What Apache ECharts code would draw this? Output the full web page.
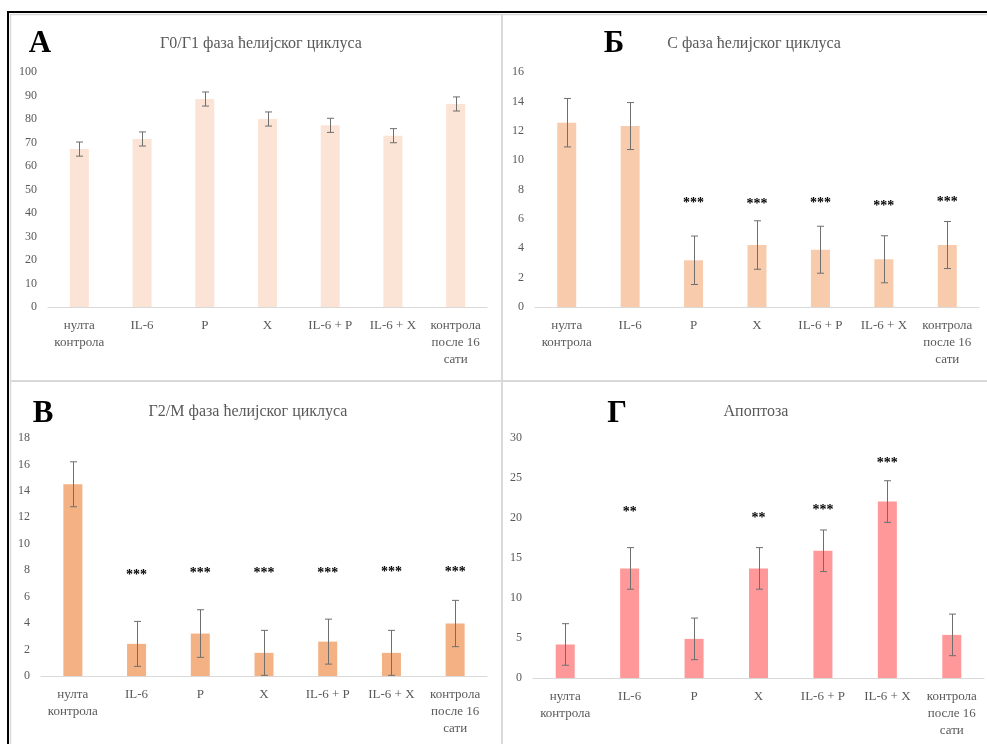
<!DOCTYPE html>
<html>
<head>
<meta charset="utf-8">
<script src="https://cdn.jsdelivr.net/npm/echarts@6/dist/echarts.min.js"></script>
<style>
  html, body { margin: 0; padding: 0; background: #ffffff; }
  #chart { width: 987px; height: 744px; }
</style>
</head>
<body>
<div id="chart"></div>
<script>
// Treatment groups (shared by all four panels)
const categories = ['нулта\nконтрола', 'IL-6', 'P', 'X', 'IL-6 + P', 'IL-6 + X', 'контрола\nпосле 16\nсати'];

// A: G0/G1 phase (%)
const g0g1Mean = [67.2, 71.5, 88.5, 80.0, 77.3, 72.9, 86.4];
const g0g1Err  = [3.0, 3.0, 3.0, 3.0, 3.0, 3.0, 3.0];
const g0g1Sig  = ['', '', '', '', '', '', ''];
const g0g1SigLevel = [null, null, null, null, null, null, null];

// Б: S phase (%)
const sMean = [12.55, 12.32, 3.18, 4.22, 3.9, 3.25, 4.22];
const sErr  = [1.65, 1.6, 1.65, 1.65, 1.6, 1.6, 1.6];
const sSig  = ['', '', '***', '***', '***', '***', '***'];
const sSigLevel = [null, null, 7.28, 7.17, 7.28, 7.06, 7.33];

// В: G2/M phase (%)
const g2mMean = [14.5, 2.43, 3.21, 1.75, 2.6, 1.75, 3.97];
const g2mErr  = [1.7, 1.7, 1.8, 1.7, 1.7, 1.7, 1.75];
const g2mSig  = ['', '***', '***', '***', '***', '***', '***'];
const g2mSigLevel = [null, 7.84, 7.96, 7.96, 7.96, 8.1, 8.1];

// Г: apoptosis (%)
const apoMean = [4.19, 13.7, 4.89, 13.7, 15.9, 22.06, 5.39];
const apoErr  = [2.6, 2.6, 2.6, 2.6, 2.6, 2.6, 2.6];
const apoSig  = ['', '**', '', '**', '***', '***', ''];
const apoSigLevel = [null, 21.05, null, 20.35, 21.3, 27.2, null];

// Panel titles, letters and axis ranges
const panelTitles  = ['Г0/Г1 фаза ћелијског циклуса', 'С фаза ћелијског циклуса', 'Г2/М фаза ћелијског циклуса', 'Апоптоза'];
const panelLetters = ['A', 'Б', 'В', 'Г'];
const axisMax      = [100, 16, 18, 30];
const axisStep     = [10, 2, 2, 5];

const SERIF = '"Liberation Serif", "Times New Roman", serif';
const GREY_TEXT = '#595959';

const panels = [
  { mean: g0g1Mean, err: g0g1Err, sig: g0g1Sig, level: g0g1SigLevel, color: '#FBE4D5',
    grid: { left: 48, top: 72, width: 439, height: 235 },
    title: [256, 39], letter: [40, 44] },
  { mean: sMean, err: sErr, sig: sSig, level: sSigLevel, color: '#F8CBAD',
    grid: { left: 535, top: 72, width: 444, height: 235 },
    title: [749, 39], letter: [614, 44] },
  { mean: g2mMean, err: g2mErr, sig: g2mSig, level: g2mSigLevel, color: '#F4B183',
    grid: { left: 41, top: 438, width: 446, height: 238 },
    title: [243, 407], letter: [43, 414] },
  { mean: apoMean, err: apoErr, sig: apoSig, level: apoSigLevel, color: '#FF9999',
    grid: { left: 533, top: 438, width: 451, height: 240 },
    title: [751, 407], letter: [617, 414] }
];

const grids = [], xAxes = [], yAxes = [], series = [], titles = [];

panels.forEach(function (p, k) {
  grids.push(Object.assign({ containLabel: false }, p.grid));

  xAxes.push({
    type: 'category', gridIndex: k, data: categories,
    axisLine: { lineStyle: { color: '#d9d9d9', width: 1 } },
    axisTick: { show: false },
    axisLabel: { color: GREY_TEXT, fontFamily: SERIF, fontSize: 13, lineHeight: 17, margin: 10, interval: 0 }
  });

  yAxes.push({
    type: 'value', gridIndex: k, min: 0, max: axisMax[k], interval: axisStep[k],
    axisLine: { show: false }, axisTick: { show: false },
    splitLine: { show: false },
    axisLabel: { color: GREY_TEXT, fontFamily: SERIF, fontSize: 12, margin: 11 }
  });

  // bars
  series.push({
    type: 'bar', xAxisIndex: k, yAxisIndex: k, data: p.mean,
    barWidth: 19, itemStyle: { color: p.color }, silent: true
  });

  // error bars (mean ± err)
  series.push({
    type: 'custom', xAxisIndex: k, yAxisIndex: k, silent: true, z: 5,
    data: p.mean.map(function (m, i) { return [i, m - p.err[i], m + p.err[i]]; }),
    renderItem: function (params, api) {
      const lo = api.coord([api.value(0), api.value(1)]);
      const hi = api.coord([api.value(0), api.value(2)]);
      const x = Math.round(lo[0]) + 0.5, half = 3.5;
      const st = { stroke: '#6f6f6f', lineWidth: 1 };
      return {
        type: 'group',
        children: [
          { type: 'line', shape: { x1: x, y1: hi[1], x2: x, y2: lo[1] }, style: st },
          { type: 'line', shape: { x1: x - half, y1: hi[1], x2: x + half, y2: hi[1] }, style: st },
          { type: 'line', shape: { x1: x - half, y1: lo[1], x2: x + half, y2: lo[1] }, style: st }
        ]
      };
    }
  });

  // significance marks
  const sigData = [];
  p.level.forEach(function (lv, i) { if (lv !== null) sigData.push([i, lv]); });
  series.push({
    type: 'custom', xAxisIndex: k, yAxisIndex: k, silent: true, z: 6,
    data: sigData,
    renderItem: function (params, api) {
      const i = api.value(0);
      const pt = api.coord([i, api.value(1)]);
      return {
        type: 'text',
        style: {
          text: p.sig[i], x: pt[0], y: pt[1] + 3,
          align: 'center', verticalAlign: 'middle',
          font: 'bold 14px ' + SERIF, fill: '#000000'
        }
      };
    }
  });

  titles.push({
    text: panelTitles[k], left: p.title[0], top: p.title[1],
    textAlign: 'center', textVerticalAlign: 'middle',
    textStyle: { color: GREY_TEXT, fontFamily: SERIF, fontSize: 16, fontWeight: 'normal' }
  });
});

// panel letters and frame lines
const graphics = [
  { type: 'line', shape: { x1: 7, y1: 12, x2: 987, y2: 12 }, style: { stroke: '#000', lineWidth: 2 } },
  { type: 'line', shape: { x1: 8, y1: 11, x2: 8, y2: 744 }, style: { stroke: '#000', lineWidth: 2 } },
  { type: 'line', shape: { x1: 10, y1: 14.5, x2: 987, y2: 14.5 }, style: { stroke: '#d9d9d9', lineWidth: 1.5 } },
  { type: 'line', shape: { x1: 10.5, y1: 14, x2: 10.5, y2: 744 }, style: { stroke: '#d9d9d9', lineWidth: 1.5 } },
  { type: 'line', shape: { x1: 502, y1: 14, x2: 502, y2: 744 }, style: { stroke: '#d9d9d9', lineWidth: 2 } },
  { type: 'line', shape: { x1: 10, y1: 381, x2: 987, y2: 381 }, style: { stroke: '#d9d9d9', lineWidth: 2 } }
];
panels.forEach(function (p, k) {
  graphics.push({
    type: 'text', x: p.letter[0], y: p.letter[1],
    style: { text: panelLetters[k], font: 'bold 31px ' + SERIF, fill: '#000', align: 'center', verticalAlign: 'middle' }
  });
});

const chart = echarts.init(document.getElementById('chart'), null, { renderer: 'canvas' });
chart.setOption({
  backgroundColor: '#ffffff',
  animation: false,
  title: titles,
  grid: grids,
  xAxis: xAxes,
  yAxis: yAxes,
  series: series,
  graphic: graphics
});
</script>
</body>
</html>
